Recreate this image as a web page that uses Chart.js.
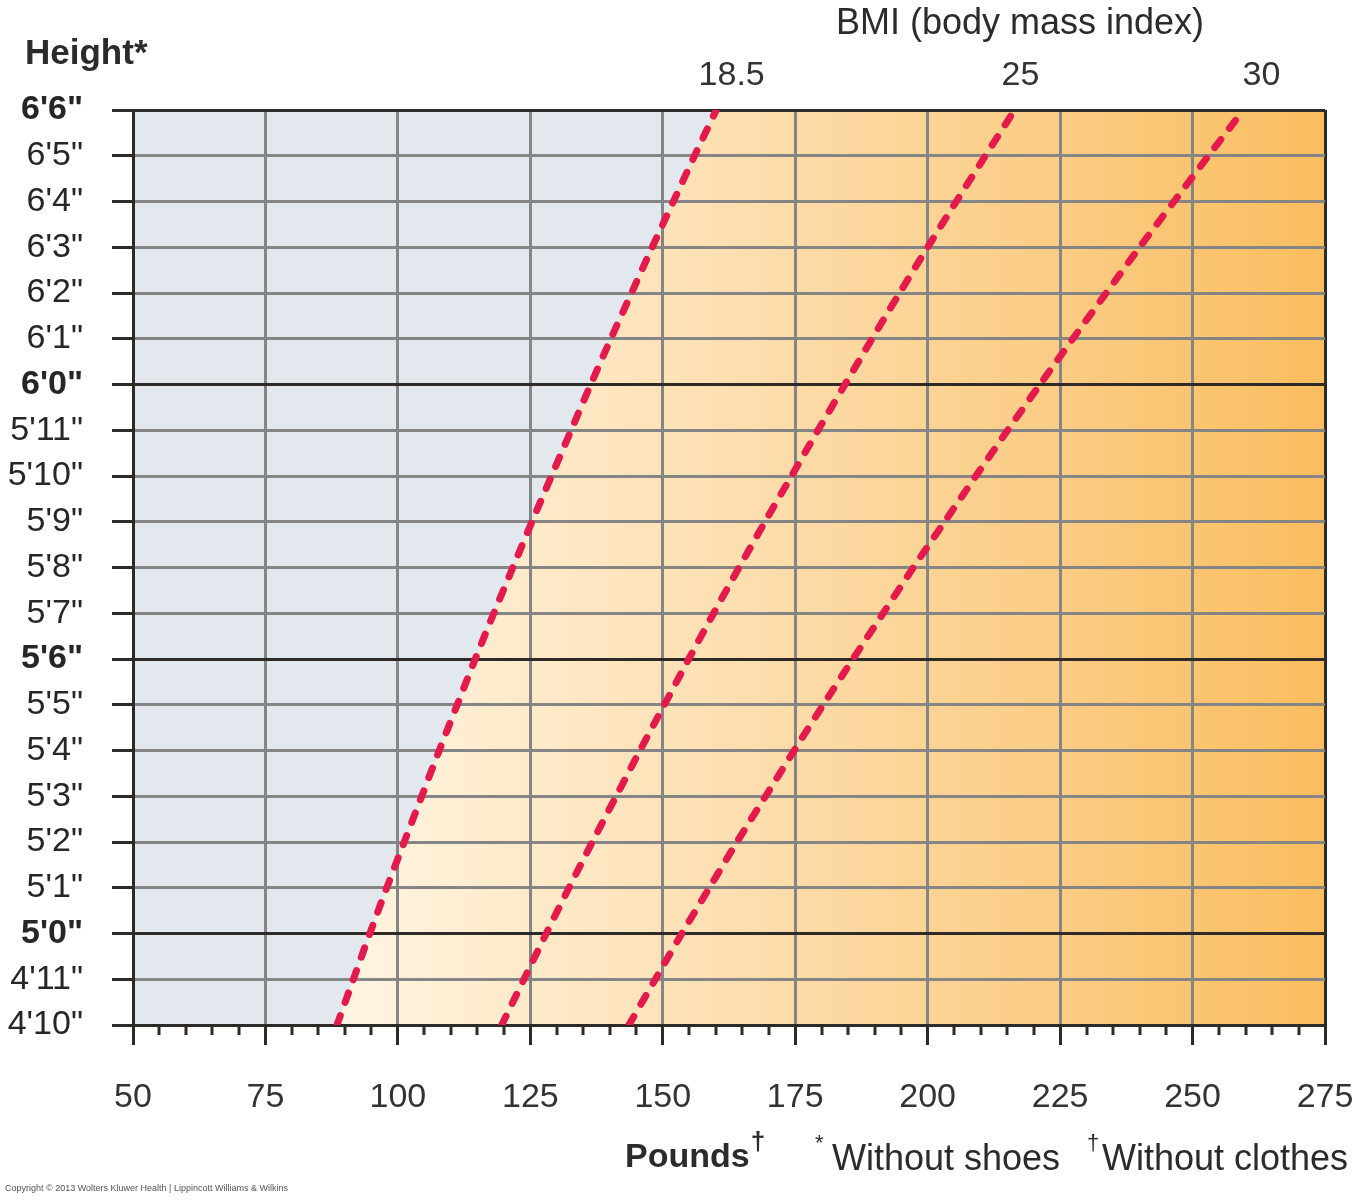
<!DOCTYPE html>
<html>
<head>
<meta charset="utf-8">
<title>BMI chart</title>
<script src="https://cdn.jsdelivr.net/npm/chart.js@4.4.1/dist/chart.umd.min.js"></script>
<style>
    html, body { margin: 0; padding: 0; background: #fff; }
    #wrap { width: 1360px; height: 1200px; position: relative; }
</style>
</head>
<body>
<div id="wrap"><canvas id="bmiChart"></canvas></div>
<script>
// heights in inches, bottom to top
const heightInches = [58, 59, 60, 61, 62, 63, 64, 65, 66, 67, 68, 69, 70, 71, 72, 73, 74, 75, 76, 77, 78];
const heightLabels = ["4'10\"", "4'11\"", "5'0\"", "5'1\"", "5'2\"", "5'3\"", "5'4\"", "5'5\"", "5'6\"", "5'7\"",
    "5'8\"", "5'9\"", "5'10\"", "5'11\"", "6'0\"", "6'1\"", "6'2\"", "6'3\"", "6'4\"", "6'5\"", "6'6\""];
const boldHeights = [60, 66, 72, 78];

// pounds where each BMI line crosses each height row
const bmi185Pounds = [88.5, 91.6, 94.7, 97.9, 101.2, 104.5, 107.8, 111.2, 114.6, 118.1, 121.7,
    125.3, 129.0, 132.7, 136.4, 140.2, 144.1, 148.0, 152.0, 156.0, 160.1];
const bmi25Pounds = [119.6, 123.8, 128.0, 132.3, 136.7, 141.2, 145.7, 150.3, 154.9, 159.6, 164.4,
    169.3, 174.3, 179.3, 184.4, 189.5, 194.7, 200.0, 205.4, 210.9, 216.4];
const bmi30Pounds = [143.6, 148.6, 153.6, 158.8, 164.0, 169.4, 174.8, 180.3, 185.9, 191.6, 197.3,
    203.2, 209.1, 215.1, 221.2, 227.4, 233.7, 240.0, 246.5, 253.0, 259.6];

const poundTicks = [50, 75, 100, 125, 150, 175, 200, 225, 250, 275];
const bmiLabels = ['18.5', '25', '30'];
const bmiLabelPounds = [163, 217.5, 263];

const FONT = 'Liberation Sans, Arial, Helvetica, sans-serif';
const DARK = '#2e2a28';
const GRID = '#858585';
const RED = '#e41a4d';

function toPoints(pounds) {
    return pounds.map((p, i) => ({ x: p, y: heightInches[i] }));
}

function bmiDataset(label, pounds) {
    return {
        label,
        data: toPoints(pounds),
        borderColor: RED,
        borderWidth: 7,
        borderDash: [10, 14],
        borderCapStyle: 'round',
        pointRadius: 0,
        tension: 0.3,
        fill: false
    };
}

// horizontal axes: fixed height, no extra side padding for edge labels
function fixHorizontal(height) {
    return (scale) => {
        scale.height = height;
        scale.paddingLeft = 0;
        scale.paddingRight = 0;
    };
}

// gradient background + grey underweight area
const backgroundPlugin = {
    id: 'bmiBackground',
    beforeDraw(chart) {
        const { ctx, chartArea: a, scales } = chart;
        ctx.save();
        const g = ctx.createLinearGradient(a.left + 200, 0, a.right, 0);
        g.addColorStop(0, '#fff5e3');
        g.addColorStop(0.45, '#fddcaa');
        g.addColorStop(1, '#f9bd5f');
        ctx.fillStyle = g;
        ctx.fillRect(a.left, a.top, a.right - a.left, a.bottom - a.top);

        ctx.beginPath();
        ctx.moveTo(scales.x.getPixelForValue(50), scales.y.getPixelForValue(heightInches[0]));
        ctx.lineTo(scales.x.getPixelForValue(50), scales.y.getPixelForValue(heightInches[heightInches.length - 1]));
        for (let i = heightInches.length - 1; i >= 0; i--) {
            ctx.lineTo(scales.x.getPixelForValue(bmi185Pounds[i]), scales.y.getPixelForValue(heightInches[i]));
        }
        ctx.closePath();
        ctx.fillStyle = '#e3e7ee';
        ctx.fill();
        ctx.restore();
    }
};

// minor ticks every 5 lb and the free text around the chart
const extrasPlugin = {
    id: 'bmiExtras',
    afterDraw(chart) {
        const { ctx, chartArea: a, scales } = chart;
        ctx.save();
        ctx.strokeStyle = DARK;
        ctx.lineWidth = 3;
        for (let v = 55; v < 275; v += 5) {
            if (v % 25 === 0) continue;
            const px = Math.round(scales.x.getPixelForValue(v));
            ctx.beginPath();
            ctx.moveTo(px, a.bottom);
            ctx.lineTo(px, a.bottom + 10);
            ctx.stroke();
        }

        ctx.fillStyle = '#2b2b2b';
        ctx.textBaseline = 'alphabetic';

        ctx.font = 'bold 35px ' + FONT;
        ctx.textAlign = 'left';
        ctx.fillText('Height*', 25, 64);

        ctx.font = '36px ' + FONT;
        ctx.textAlign = 'center';
        ctx.fillText('BMI (body mass index)', 1020, 34);

        ctx.textAlign = 'left';
        ctx.font = 'bold 34px ' + FONT;
        ctx.fillText('Pounds', 625, 1167);
        let w = ctx.measureText('Pounds').width;
        ctx.font = 'bold 26px ' + FONT;
        ctx.fillText('\u2020', 625 + w + 1, 1150);

        ctx.font = '22px ' + FONT;
        ctx.fillText('*', 815, 1150);
        ctx.font = '36px ' + FONT;
        ctx.fillText('Without shoes', 832, 1170);
        ctx.font = '22px ' + FONT;
        ctx.fillText('\u2020', 1087, 1150);
        ctx.font = '36px ' + FONT;
        ctx.fillText('Without clothes', 1102, 1170);

        ctx.font = '9px ' + FONT;
        ctx.fillStyle = '#555';
        ctx.fillText('Copyright \u00a9 2013 Wolters Kluwer Health | Lippincott Williams & Wilkins', 5, 1191);
        ctx.restore();
    }
};

new Chart(document.getElementById('bmiChart'), {
    type: 'line',
    data: {
        datasets: [
            bmiDataset('BMI 18.5', bmi185Pounds),
            bmiDataset('BMI 25', bmi25Pounds),
            bmiDataset('BMI 30', bmi30Pounds)
        ]
    },
    plugins: [backgroundPlugin, extrasPlugin],
    options: {
        responsive: true,
        maintainAspectRatio: false,
        animation: false,
        layout: { padding: { right: 35, left: 0, top: 0, bottom: 0 } },
        plugins: {
            legend: { display: false },
            tooltip: { enabled: false }
        },
        scales: {
            x: {
                type: 'linear',
                position: 'bottom',
                min: 50,
                max: 275,
                afterBuildTicks: (scale) => { scale.ticks = poundTicks.map(v => ({ value: v })); },
                afterFit: fixHorizontal(175),
                ticks: {
                    color: '#333',
                    padding: 32,
                    maxRotation: 0,
                    font: { family: FONT, size: 34 },
                    callback: (v) => String(v)
                },
                grid: {
                    color: (c) => (c.tick && (c.tick.value === 50 || c.tick.value === 275)) ? DARK : GRID,
                    lineWidth: 3,
                    tickLength: 20,
                    tickColor: DARK,
                    tickWidth: 3
                },
                border: { color: DARK, width: 3 }
            },
            x2: {
                type: 'linear',
                position: 'top',
                min: 50,
                max: 275,
                afterBuildTicks: (scale) => { scale.ticks = bmiLabelPounds.map(v => ({ value: v })); },
                afterFit: fixHorizontal(110),
                ticks: {
                    color: '#333',
                    padding: 14,
                    maxRotation: 0,
                    font: { family: FONT, size: 34 },
                    callback: (v) => bmiLabels[bmiLabelPounds.indexOf(v)]
                },
                grid: { display: false, drawTicks: false },
                border: { display: false }
            },
            y: {
                type: 'linear',
                min: 58,
                max: 78,
                afterBuildTicks: (scale) => { scale.ticks = heightInches.map(v => ({ value: v })); },
                afterFit: (scale) => { scale.width = 133; },
                ticks: {
                    color: '#262626',
                    padding: 29,
                    autoSkip: false,
                    font: (c) => ({
                        family: FONT,
                        size: 34,
                        weight: (c.tick && boldHeights.includes(c.tick.value)) ? 'bold' : 'normal'
                    }),
                    callback: (v) => heightLabels[heightInches.indexOf(v)]
                },
                grid: {
                    color: (c) => (c.tick && (boldHeights.includes(c.tick.value) || c.tick.value === 58)) ? DARK : GRID,
                    lineWidth: 3,
                    tickLength: 21,
                    tickColor: DARK,
                    tickWidth: 3
                },
                border: { color: DARK, width: 3 }
            }
        }
    }
});
</script>
</body>
</html>
